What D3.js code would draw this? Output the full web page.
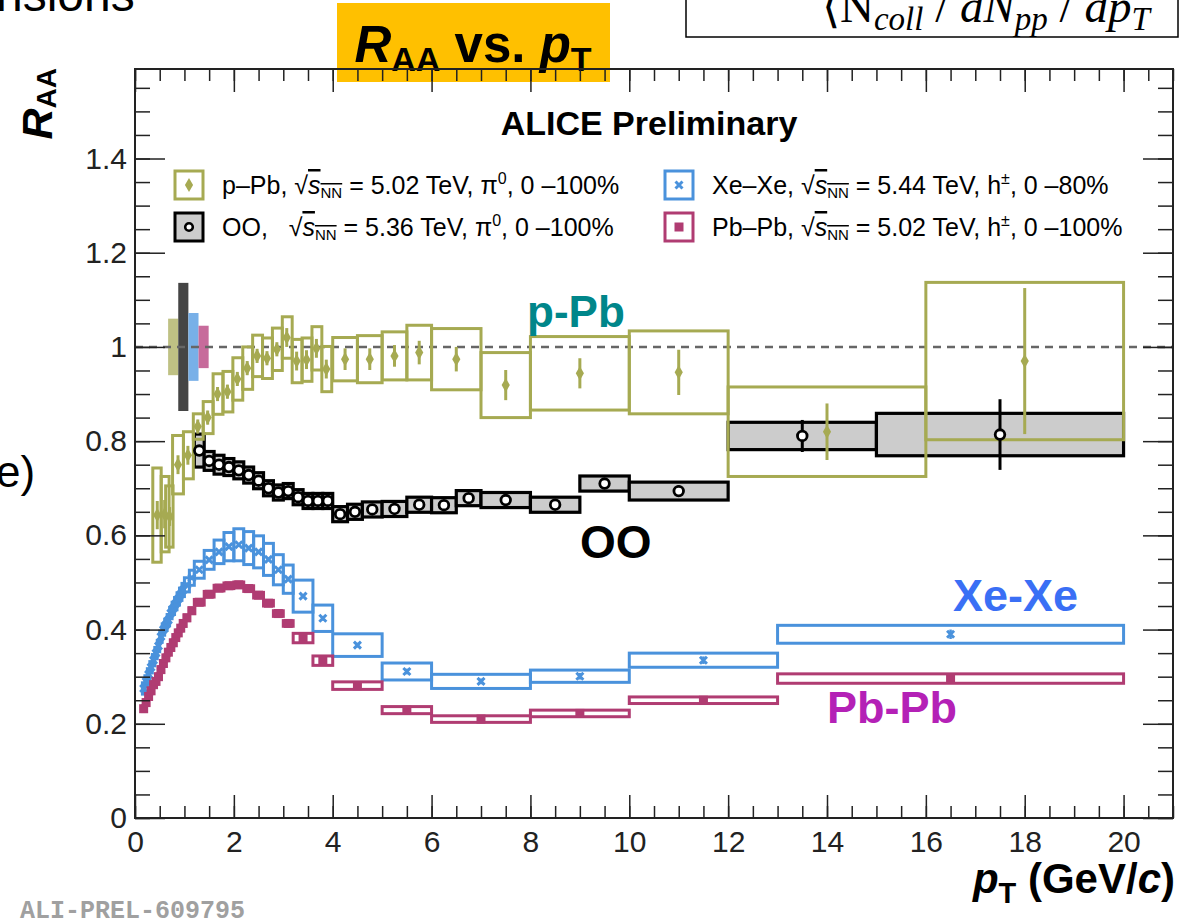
<!DOCTYPE html>
<html>
<head>
<meta charset="utf-8">
<script src="https://d3js.org/d3.v7.min.js"></script>
<style>
  body { margin: 0; background: #fff; }
  svg { display: block; font-family: "Liberation Sans", Arial, Helvetica, sans-serif; }
</style>
</head>
<body>
<script>

// ---------- data ----------

// axis ticks
var xTickValues = [0, 2, 4, 6, 8, 10, 12, 14, 16, 18, 20];
var xTickLabels = ["0", "2", "4", "6", "8", "10", "12", "14", "16", "18", "20"];
var yTickValues = [0, 0.2, 0.4, 0.6, 0.8, 1.0, 1.2, 1.4];
var yTickLabels = ["0", "0.2", "0.4", "0.6", "0.8", "1", "1.2", "1.4"];

// p-Pb, pi0
var pPbPt   = [0.45, 0.6, 0.7, 0.87, 1.07, 1.27, 1.47, 1.67, 1.87, 2.07, 2.27, 2.47, 2.67, 2.87, 3.07, 3.27, 3.47, 3.67, 3.87, 4.25, 4.75, 5.25, 5.75, 6.5, 7.5, 9, 11, 14, 18];
var pPbLo   = [0.36, 0.53, 0.62, 0.76, 0.98, 1.18, 1.38, 1.58, 1.78, 1.98, 2.18, 2.38, 2.58, 2.78, 2.98, 3.18, 3.38, 3.58, 3.78, 4.0, 4.5, 5.0, 5.5, 6, 7, 8, 10, 12, 16];
var pPbHi   = [0.53, 0.69, 0.77, 0.98, 1.18, 1.38, 1.58, 1.78, 1.98, 2.18, 2.38, 2.58, 2.78, 2.98, 3.18, 3.38, 3.58, 3.78, 3.98, 4.5, 5.0, 5.5, 6.0, 7, 8, 10, 12, 16, 20];
var pPbR    = [0.643, 0.645, 0.64, 0.75, 0.77, 0.831, 0.85, 0.90, 0.905, 0.932, 0.955, 0.981, 0.976, 0.995, 1.02, 0.97, 0.973, 0.997, 0.953, 0.974, 0.974, 0.981, 0.988, 0.974, 0.919, 0.944, 0.946, 0.82, 0.97];
var pPbStat = [0.03, 0.03, 0.02, 0.02, 0.02, 0.015, 0.015, 0.015, 0.015, 0.015, 0.015, 0.015, 0.015, 0.015, 0.02, 0.02, 0.02, 0.02, 0.02, 0.023, 0.023, 0.023, 0.025, 0.026, 0.032, 0.032, 0.048, 0.06, 0.155];
var pPbSys  = [0.10, 0.08, 0.065, 0.062, 0.05, 0.027, 0.034, 0.043, 0.043, 0.045, 0.045, 0.044, 0.043, 0.045, 0.044, 0.046, 0.046, 0.046, 0.048, 0.046, 0.05, 0.051, 0.058, 0.065, 0.069, 0.078, 0.088, 0.095, 0.167];

// OO, pi0
var ooPt   = [1.3, 1.5, 1.7, 1.9, 2.1, 2.3, 2.5, 2.7, 2.9, 3.1, 3.3, 3.5, 3.7, 3.9, 4.15, 4.45, 4.8, 5.25, 5.75, 6.25, 6.75, 7.5, 8.5, 9.5, 11, 13.5, 17.5];
var ooLo   = [1.2, 1.4, 1.6, 1.8, 2.0, 2.2, 2.4, 2.6, 2.8, 3.0, 3.2, 3.4, 3.6, 3.8, 4.0, 4.3, 4.6, 5.0, 5.5, 6.0, 6.5, 7, 8, 9, 10, 12, 15];
var ooHi   = [1.4, 1.6, 1.8, 2.0, 2.2, 2.4, 2.6, 2.8, 3.0, 3.2, 3.4, 3.6, 3.8, 4.0, 4.3, 4.6, 5.0, 5.5, 6.0, 6.5, 7.0, 8, 9, 10, 12, 15, 20];
var ooR    = [0.78, 0.758, 0.75, 0.745, 0.738, 0.728, 0.716, 0.70, 0.691, 0.694, 0.681, 0.673, 0.673, 0.673, 0.645, 0.65, 0.655, 0.656, 0.665, 0.664, 0.679, 0.675, 0.665, 0.71, 0.694, 0.811, 0.814];
var ooStat = [0.01, 0.008, 0.008, 0.008, 0.008, 0.008, 0.008, 0.008, 0.008, 0.008, 0.008, 0.008, 0.008, 0.008, 0.008, 0.008, 0.008, 0.008, 0.008, 0.008, 0.008, 0.008, 0.008, 0.01, 0.012, 0.034, 0.075];
var ooSys  = [0.035, 0.02, 0.02, 0.018, 0.018, 0.017, 0.017, 0.016, 0.016, 0.016, 0.016, 0.016, 0.016, 0.016, 0.016, 0.016, 0.016, 0.016, 0.016, 0.016, 0.016, 0.016, 0.016, 0.016, 0.019, 0.029, 0.045];

// Xe-Xe and Pb-Pb, charged hadrons (same binning)
var hPt = [0.175, 0.225, 0.275, 0.325, 0.375, 0.425, 0.475, 0.525, 0.575, 0.625, 0.675, 0.725, 0.775, 0.825, 0.875, 0.925, 0.975, 1.05, 1.15, 1.3, 1.5, 1.7, 1.9, 2.1, 2.3, 2.5, 2.7, 2.9, 3.1, 3.4, 3.8, 4.5, 5.5, 7, 9, 11.5, 16.5];
var hLo = [0.15, 0.2, 0.25, 0.3, 0.35, 0.4, 0.45, 0.5, 0.55, 0.6, 0.65, 0.7, 0.75, 0.8, 0.85, 0.9, 0.95, 1.0, 1.1, 1.2, 1.4, 1.6, 1.8, 2.0, 2.2, 2.4, 2.6, 2.8, 3.0, 3.2, 3.6, 4.0, 5.0, 6.0, 8.0, 10.0, 13.0];
var hHi = [0.2, 0.25, 0.3, 0.35, 0.4, 0.45, 0.5, 0.55, 0.6, 0.65, 0.7, 0.75, 0.8, 0.85, 0.9, 0.95, 1.0, 1.1, 1.2, 1.4, 1.6, 1.8, 2.0, 2.2, 2.4, 2.6, 2.8, 3.0, 3.2, 3.6, 4.0, 5.0, 6.0, 8.0, 10.0, 13.0, 20.0];

var xeR    = [0.275, 0.29, 0.305, 0.32, 0.335, 0.35, 0.365, 0.385, 0.40, 0.41, 0.42, 0.435, 0.445, 0.455, 0.465, 0.475, 0.484, 0.495, 0.51, 0.527, 0.548, 0.565, 0.576, 0.58, 0.573, 0.565, 0.549, 0.527, 0.507, 0.471, 0.424, 0.367, 0.311, 0.29, 0.301, 0.335, 0.39];
var xeStat = [0.003, 0.003, 0.003, 0.003, 0.003, 0.003, 0.003, 0.003, 0.003, 0.003, 0.003, 0.003, 0.003, 0.003, 0.003, 0.003, 0.003, 0.003, 0.003, 0.003, 0.003, 0.003, 0.003, 0.003, 0.003, 0.003, 0.003, 0.003, 0.004, 0.004, 0.005, 0.005, 0.006, 0.006, 0.007, 0.008, 0.01];
var xeSys  = [0.012, 0.012, 0.012, 0.012, 0.012, 0.012, 0.012, 0.012, 0.012, 0.012, 0.012, 0.012, 0.013, 0.013, 0.013, 0.013, 0.014, 0.015, 0.016, 0.018, 0.02, 0.025, 0.03, 0.034, 0.035, 0.034, 0.034, 0.032, 0.03, 0.034, 0.028, 0.024, 0.018, 0.015, 0.013, 0.015, 0.019];

var pbR    = [0.232, 0.245, 0.258, 0.27, 0.283, 0.29, 0.30, 0.315, 0.328, 0.34, 0.352, 0.362, 0.372, 0.383, 0.393, 0.403, 0.413, 0.425, 0.44, 0.458, 0.475, 0.488, 0.493, 0.495, 0.487, 0.473, 0.456, 0.434, 0.413, 0.382, 0.334, 0.281, 0.229, 0.21, 0.222, 0.25, 0.296];
var pbStat = [0.002, 0.002, 0.002, 0.002, 0.002, 0.002, 0.002, 0.002, 0.002, 0.002, 0.002, 0.002, 0.002, 0.002, 0.002, 0.002, 0.002, 0.002, 0.002, 0.002, 0.002, 0.002, 0.002, 0.002, 0.002, 0.002, 0.002, 0.002, 0.002, 0.003, 0.003, 0.003, 0.003, 0.003, 0.004, 0.005, 0.006];
var pbSys  = [0.006, 0.006, 0.006, 0.006, 0.006, 0.006, 0.006, 0.006, 0.006, 0.006, 0.006, 0.006, 0.006, 0.006, 0.006, 0.006, 0.006, 0.006, 0.006, 0.006, 0.006, 0.006, 0.006, 0.006, 0.006, 0.006, 0.006, 0.006, 0.006, 0.01, 0.01, 0.008, 0.0075, 0.007, 0.007, 0.007, 0.01];

// global normalisation uncertainties at R_AA = 1 (p-Pb, OO, Xe-Xe, Pb-Pb)
var normUnc = [0.06, 0.136, 0.072, 0.045];

// ---------- layout ----------

var W = 1191, H = 920;
var frame = {left: 135, right: 1173, top: 69, bottom: 818};

var colPPb = "#a6aa52", colOO = "#000000", colXe = "#4a92dc", colPb = "#b03c72";
var normCols = ["#bfc184", "#454545", "#78b0e8", "#c76b9b"];

var svg = d3.select("body").append("svg")
    .attr("width", W)
    .attr("height", H);

var xScale = d3.scaleLinear().domain([0, 21]).range([frame.left, frame.right]);
var yScale = d3.scaleLinear().domain([0, 1.59]).range([frame.bottom, frame.top]);

function rows(pt, r, stat, sys, lo, hi) {
  return pt.map(function(d, i) {
    return {pt: d, r: r[i], stat: stat[i], sys: sys[i], lo: lo[i], hi: hi[i]};
  });
}

var pPbData = rows(pPbPt, pPbR, pPbStat, pPbSys, pPbLo, pPbHi);
var ooData  = rows(ooPt, ooR, ooStat, ooSys, ooLo, ooHi);
var xeData  = rows(hPt, xeR, xeStat, xeSys, hLo, hHi);
var pbData  = rows(hPt, pbR, pbStat, pbSys, hLo, hHi);

////// clipped bits of the slide around the plot //////
svg.append("text")
    .attr("x", -4).attr("y", 11)
    .attr("font-size", 48)
    .text("nsions");

svg.append("text")
    .attr("x", -4).attr("y", 487)
    .attr("font-size", 44)
    .text("e)");

svg.append("rect")
    .attr("x", 686).attr("y", -10)
    .attr("width", 492).attr("height", 47)
    .attr("fill", "#fff").attr("stroke", "#000").attr("stroke-width", 1.5);

var formula = svg.append("text")
    .attr("x", 822).attr("y", 22)
    .attr("font-family", "'Liberation Serif', 'Times New Roman', serif")
    .attr("font-style", "italic")
    .attr("font-size", 47);
formula.append("tspan").attr("font-style", "normal").text("\u27E8N");
formula.append("tspan").attr("font-size", 33).attr("dy", 8).text("coll");
formula.append("tspan").attr("dy", -8).attr("font-style", "normal").text(" / ");
formula.append("tspan").text("dN");
formula.append("tspan").attr("font-size", 33).attr("dy", 8).text("pp");
formula.append("tspan").attr("dy", -8).attr("font-style", "normal").text(" / ");
formula.append("tspan").text("dp");
formula.append("tspan").attr("font-size", 33).attr("dy", 8).text("T");

// title box
svg.append("rect")
    .attr("x", 337).attr("y", 3)
    .attr("width", 273).attr("height", 79)
    .attr("fill", "#ffc000");

var title = svg.append("text")
    .attr("x", 473).attr("y", 62)
    .attr("text-anchor", "middle")
    .attr("font-weight", "bold")
    .attr("font-size", 51);
title.append("tspan").attr("font-style", "italic").text("R");
title.append("tspan").attr("font-size", 34).attr("dy", 9).text("AA");
title.append("tspan").attr("dy", -9).text(" vs. ");
title.append("tspan").attr("font-style", "italic").text("p");
title.append("tspan").attr("font-size", 34).attr("dy", 9).text("T");

////// plot ////////////////
var canvas = svg.append("g");

// normalisation boxes
canvas.append("g").selectAll("rect")
    .data(normUnc)
    .enter()
    .append("rect")
    .attr("x", function(d, i) { return xScale(0.67 + 0.205 * i); })
    .attr("width", xScale(0.205) - xScale(0))
    .attr("y", function(d) { return yScale(1 + d); })
    .attr("height", function(d) { return yScale(1 - d) - yScale(1 + d); })
    .attr("fill", function(d, i) { return normCols[i]; });

// dashed line at unity
canvas.append("line")
    .attr("x1", xScale(0)).attr("x2", xScale(21))
    .attr("y1", yScale(1)).attr("y2", yScale(1))
    .attr("stroke", "#666").attr("stroke-width", 2.5)
    .attr("stroke-dasharray", "8,6");

function sysBoxes(data, stroke, fill, sw) {
  canvas.append("g").selectAll("rect")
      .data(data)
      .enter()
      .append("rect")
      .attr("x", function(d) { return xScale(d.lo); })
      .attr("width", function(d) { return xScale(d.hi) - xScale(d.lo); })
      .attr("y", function(d) { return yScale(d.r + d.sys); })
      .attr("height", function(d) { return yScale(d.r - d.sys) - yScale(d.r + d.sys); })
      .attr("fill", fill)
      .attr("stroke", stroke)
      .attr("stroke-width", sw);
}

function statBars(data, stroke, sw) {
  canvas.append("g").selectAll("line")
      .data(data)
      .enter()
      .append("line")
      .attr("x1", function(d) { return xScale(d.pt); })
      .attr("x2", function(d) { return xScale(d.pt); })
      .attr("y1", function(d) { return yScale(d.r - d.stat); })
      .attr("y2", function(d) { return yScale(d.r + d.stat); })
      .attr("stroke", stroke)
      .attr("stroke-width", sw);
}

sysBoxes(ooData, colOO, "#cccccc", 3.2);
sysBoxes(pPbData, colPPb, "none", 3);
sysBoxes(xeData, colXe, "none", 3);
sysBoxes(pbData, colPb, "none", 3);

statBars(pPbData, colPPb, 3);
statBars(ooData, colOO, 3);
statBars(xeData, colXe, 2.5);
statBars(pbData, colPb, 2.5);

// markers
var diamond = d3.symbol().type(d3.symbolDiamond).size(58);

canvas.append("g").selectAll("path")
    .data(pPbData)
    .enter()
    .append("path")
    .attr("d", diamond)
    .attr("transform", function(d) { return "translate(" + xScale(d.pt) + "," + yScale(d.r) + ")"; })
    .attr("fill", colPPb);

canvas.append("g").selectAll("circle")
    .data(ooData)
    .enter()
    .append("circle")
    .attr("cx", function(d) { return xScale(d.pt); })
    .attr("cy", function(d) { return yScale(d.r); })
    .attr("r", 4.8)
    .attr("fill", "#fff")
    .attr("stroke", colOO)
    .attr("stroke-width", 2.8);

canvas.append("g").selectAll("path")
    .data(xeData)
    .enter()
    .append("path")
    .attr("d", "M-3.5,-3.5L3.5,3.5M-3.5,3.5L3.5,-3.5")
    .attr("transform", function(d) { return "translate(" + xScale(d.pt) + "," + yScale(d.r) + ")"; })
    .attr("stroke", colXe)
    .attr("stroke-width", 3);

canvas.append("g").selectAll("rect")
    .data(pbData)
    .enter()
    .append("rect")
    .attr("x", function(d) { return xScale(d.pt) - 4.5; })
    .attr("y", function(d) { return yScale(d.r) - 4.5; })
    .attr("width", 9).attr("height", 9)
    .attr("fill", colPb);

////// axes ////////////////
function styleAxis(g) {
  g.attr("font-family", "'Liberation Sans', Arial, sans-serif")
   .attr("font-size", 30)
   .attr("color", "#222");
  g.selectAll(".tick line").attr("stroke-width", 1.5);
  g.select(".domain").remove();
}

var xAxis = d3.axisBottom(xScale).tickValues(xTickValues).tickSize(-23).tickSizeOuter(0).tickPadding(13)
    .tickFormat(function(d, i) { return xTickLabels[i]; });
var xAxisMinor = d3.axisBottom(xScale).tickValues(d3.range(0, 21.01, 0.5)).tickSize(-12).tickFormat("");
var xAxisTop = d3.axisTop(xScale).tickValues(xTickValues).tickSize(-23).tickFormat("");
var xAxisTopMinor = d3.axisTop(xScale).tickValues(d3.range(0, 21.01, 0.5)).tickSize(-12).tickFormat("");

var yAxis = d3.axisLeft(yScale).tickValues(yTickValues).tickSize(-30).tickSizeOuter(0).tickPadding(8)
    .tickFormat(function(d, i) { return yTickLabels[i]; });
var yAxisMinor = d3.axisLeft(yScale).tickValues(d3.range(0, 1.56, 0.05)).tickSize(-15).tickFormat("");
var yAxisRight = d3.axisRight(yScale).tickValues(yTickValues).tickSize(-30).tickFormat("");
var yAxisRightMinor = d3.axisRight(yScale).tickValues(d3.range(0, 1.56, 0.05)).tickSize(-15).tickFormat("");

svg.append("g").attr("transform", "translate(0," + frame.bottom + ")").call(xAxis).call(styleAxis);
svg.append("g").attr("transform", "translate(0," + frame.bottom + ")").call(xAxisMinor).call(styleAxis);
svg.append("g").attr("transform", "translate(0," + frame.top + ")").call(xAxisTop).call(styleAxis);
svg.append("g").attr("transform", "translate(0," + frame.top + ")").call(xAxisTopMinor).call(styleAxis);
svg.append("g").attr("transform", "translate(" + frame.left + ",0)").call(yAxis).call(styleAxis);
svg.append("g").attr("transform", "translate(" + frame.left + ",0)").call(yAxisMinor).call(styleAxis);
svg.append("g").attr("transform", "translate(" + frame.right + ",0)").call(yAxisRight).call(styleAxis);
svg.append("g").attr("transform", "translate(" + frame.right + ",0)").call(yAxisRightMinor).call(styleAxis);

svg.append("rect")
    .attr("x", frame.left).attr("y", frame.top)
    .attr("width", frame.right - frame.left)
    .attr("height", frame.bottom - frame.top)
    .attr("fill", "none")
    .attr("stroke", "#222")
    .attr("stroke-width", 2);

// axis titles
var yTitle = svg.append("text")
    .attr("transform", "translate(52,68) rotate(-90)")
    .attr("text-anchor", "end")
    .attr("font-weight", "bold")
    .attr("font-size", 43);
yTitle.append("tspan").attr("font-style", "italic").text("R");
yTitle.append("tspan").attr("font-size", 28).attr("dy", 4).text("AA");

var xTitle = svg.append("text")
    .attr("x", 1175).attr("y", 893)
    .attr("text-anchor", "end")
    .attr("font-weight", "bold")
    .attr("font-size", 42);
xTitle.append("tspan").attr("font-style", "italic").text("p");
xTitle.append("tspan").attr("font-size", 29).attr("dy", 10).text("T");
xTitle.append("tspan").attr("dy", -10).text(" (GeV/");
xTitle.append("tspan").attr("font-style", "italic").text("c");
xTitle.append("tspan").text(")");

////// legend ////////////////
svg.append("text")
    .attr("x", 649).attr("y", 135)
    .attr("text-anchor", "middle")
    .attr("font-weight", "bold")
    .attr("font-size", 34)
    .text("ALICE Preliminary");

var legendEntries = [
  {sys: "p\u2013Pb, ", e: "5.02", part: "\u03C0", sup: "0", cent: "0 \u2013100%", col: colPPb, fill: "none", mk: "diamond", x: 175, y: 185},
  {sys: "OO,   ",     e: "5.36", part: "\u03C0", sup: "0", cent: "0 \u2013100%", col: colOO,  fill: "#cccccc", mk: "circle", x: 175, y: 227},
  {sys: "Xe\u2013Xe, ", e: "5.44", part: "h", sup: "\u00B1", cent: "0 \u201380%", col: colXe, fill: "none", mk: "cross", x: 665, y: 185},
  {sys: "Pb\u2013Pb, ", e: "5.02", part: "h", sup: "\u00B1", cent: "0 \u2013100%", col: colPb, fill: "none", mk: "square", x: 665, y: 227}
];

var leg = svg.append("g").selectAll("g")
    .data(legendEntries)
    .enter()
    .append("g")
    .attr("transform", function(d) { return "translate(" + d.x + "," + d.y + ")"; });

leg.append("rect")
    .attr("x", 0).attr("y", -14)
    .attr("width", 28).attr("height", 28)
    .attr("fill", function(d) { return d.fill; })
    .attr("stroke", function(d) { return d.col; })
    .attr("stroke-width", 3);

leg.each(function(d) {
  var g = d3.select(this);
  if (d.mk === "diamond") {
    g.append("path").attr("d", diamond).attr("transform", "translate(14,0)").attr("fill", d.col);
  } else if (d.mk === "circle") {
    g.append("circle").attr("cx", 14).attr("cy", 0).attr("r", 3.8)
      .attr("fill", "#fff").attr("stroke", d.col).attr("stroke-width", 2.6);
  } else if (d.mk === "cross") {
    g.append("path").attr("d", "M10.5,-3.5L17.5,3.5M10.5,3.5L17.5,-3.5").attr("stroke", d.col).attr("stroke-width", 3);
  } else {
    g.append("rect").attr("x", 9.5).attr("y", -4.5).attr("width", 9).attr("height", 9).attr("fill", d.col);
  }

  var t = g.append("text")
      .attr("x", 47).attr("y", 9)
      .attr("font-size", 25)
      .attr("xml:space", "preserve");
  t.append("tspan").text(d.sys);
  t.append("tspan").text("\u221A");
  t.append("tspan").attr("font-style", "italic").attr("text-decoration", "overline").text("s");
  t.append("tspan").attr("font-size", 15).attr("dy", 4).attr("text-decoration", "overline").text("NN");
  t.append("tspan").attr("dy", -4).text(" = " + d.e + " TeV, " + d.part);
  t.append("tspan").attr("font-size", 16).attr("dy", -10).text(d.sup);
  t.append("tspan").attr("dy", 10).text(", " + d.cent);
});

////// in-plot labels ////////////////
var labels = [
  {text: "p-Pb",  x: 527, y: 327, col: "#00868a", size: 44},
  {text: "OO",    x: 580, y: 558, col: "#000000", size: 46},
  {text: "Xe-Xe", x: 953, y: 611, col: "#3a6ff5", size: 45},
  {text: "Pb-Pb", x: 827, y: 723, col: "#b421b6", size: 45}
];

svg.append("g").selectAll("text")
    .data(labels)
    .enter()
    .append("text")
    .attr("x", function(d) { return d.x; })
    .attr("y", function(d) { return d.y; })
    .attr("fill", function(d) { return d.col; })
    .attr("font-size", function(d) { return d.size; })
    .attr("font-weight", "bold")
    .text(function(d) { return d.text; });

// preliminary tag
svg.append("text")
    .attr("x", 20).attr("y", 918)
    .attr("font-family", "'Liberation Mono', 'DejaVu Sans Mono', monospace")
    .attr("font-weight", "bold")
    .attr("font-size", 25)
    .attr("fill", "#a0a0a0")
    .text("ALI-PREL-609795");

</script>
</body>
</html>
